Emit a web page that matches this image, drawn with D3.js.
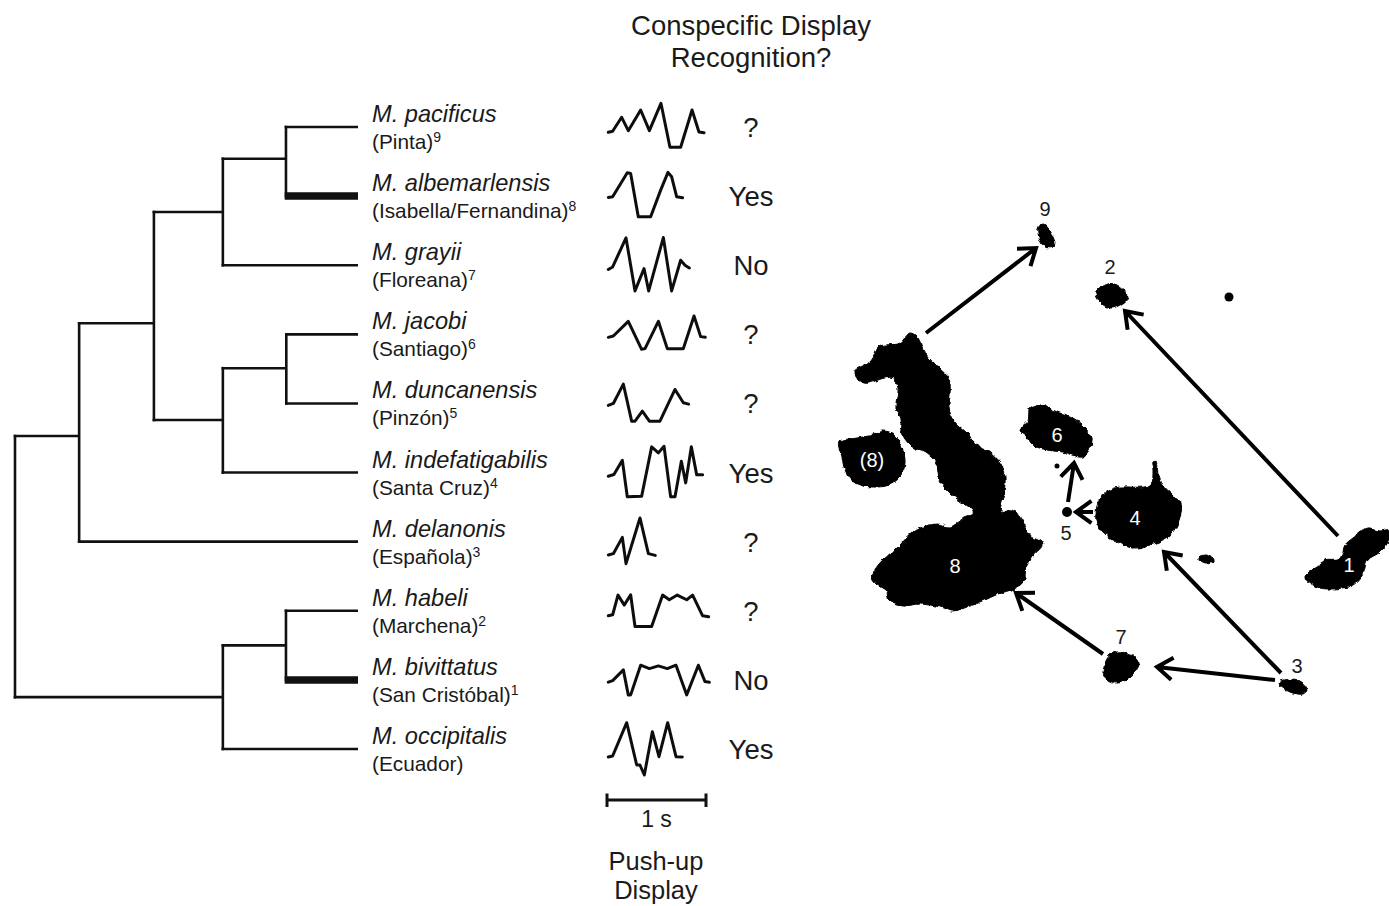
<!DOCTYPE html>
<html>
<head>
<meta charset="utf-8">
<script src="https://cdn.jsdelivr.net/npm/d3@7"></script>
<style>
  html, body { margin: 0; padding: 0; background: #fff; }
  text { font-family: "Liberation Sans", Arial, sans-serif; fill: #1a1a1a; }
</style>
</head>
<body>
<script>
const species = ['M. pacificus', 'M. albemarlensis', 'M. grayii', 'M. jacobi', 'M. duncanensis',
  'M. indefatigabilis', 'M. delanonis', 'M. habeli', 'M. bivittatus', 'M. occipitalis'];
const locations = ['(Pinta)', '(Isabella/Fernandina)', '(Floreana)', '(Santiago)', '(Pinzón)',
  '(Santa Cruz)', '(Española)', '(Marchena)', '(San Cristóbal)', '(Ecuador)'];
const islandNumbers = ['9', '8', '7', '6', '5', '4', '3', '2', '1', ''];
const recognition = ['?', 'Yes', 'No', '?', '?', 'Yes', '?', '?', 'No', 'Yes'];

// tree: age = distance from root (0-100), row = vertical place in rows of species
const treeNodes = [
  { id: 'root', parent: null, age: 0, row: 4.47 },
  { id: 'A', parent: 'root', age: 18.7, row: 4.47 },
  { id: 'B', parent: 'A', age: 40.5, row: 2.84 },
  { id: 'C', parent: 'B', age: 60.6, row: 1.23 },
  { id: 'D', parent: 'C', age: 79, row: 0.46 },
  { id: 'E', parent: 'B', age: 60.6, row: 4.24 },
  { id: 'F', parent: 'E', age: 79.1, row: 3.49 },
  { id: 'G', parent: 'root', age: 60.6, row: 8.25 },
  { id: 'H', parent: 'G', age: 79, row: 7.5 },
  { id: 'M. pacificus', parent: 'D', age: 100, row: 0 },
  { id: 'M. albemarlensis', parent: 'D', age: 100, row: 1, thick: true },
  { id: 'M. grayii', parent: 'C', age: 100, row: 2 },
  { id: 'M. jacobi', parent: 'F', age: 100, row: 3 },
  { id: 'M. duncanensis', parent: 'F', age: 100, row: 4 },
  { id: 'M. indefatigabilis', parent: 'E', age: 100, row: 5 },
  { id: 'M. delanonis', parent: 'A', age: 100, row: 6 },
  { id: 'M. habeli', parent: 'H', age: 100, row: 7 },
  { id: 'M. bivittatus', parent: 'H', age: 100, row: 8, thick: true },
  { id: 'M. occipitalis', parent: 'G', age: 100, row: 9 }
];

// push-up displays: seconds and amplitude around the row centre
const displayTimes = [
  [.013, .057, .148, .215, .34, .428, .545, .636, .744, .859, .929, .98],
  [.013, .057, .205, .239, .316, .441, .542, .616, .653, .704, .764],
  [.013, .057, .192, .283, .374, .421, .569, .653, .744, .788, .832],
  [.013, .064, .215, .35, .384, .519, .609, .771, .879, .946, .993],
  [.013, .064, .165, .249, .283, .357, .428, .535, .687, .771, .825],
  [.013, .07, .155, .205, .35, .451, .519, .576, .643, .687, .751, .795, .852, .906, .966],
  [.013, .064, .155, .192, .333, .418, .488],
  [.013, .057, .111, .175, .239, .283, .451, .562, .629, .71, .805, .865, .966, 1.027],
  [.013, .057, .165, .215, .239, .34, .428, .519, .609, .697, .805, .923, .99, 1.034],
  [.013, .057, .199, .3, .333, .377, .458, .525, .613, .697, .761]
];
const displayAmps = [
  [-5.3, -4.3, 9.7, -3.7, 17, -3.7, 23.7, -20.3, -20.3, 17, -5, -5.7],
  [-1.3, -.7, 23.3, 22.7, -20.7, -20.7, 6, 23.7, 19.3, -.7, -1.7],
  [-4.3, -1.7, 27.3, -25.7, -3.3, -25.7, 27.7, -25.7, 5, 0, -2.7],
  [-3, -1.7, 13, -15, -14.3, 13, -14.3, -14.3, 18.3, -2.3, -3],
  [-2, 0, 19.3, -17.7, -17.7, -7.7, -17.7, -17.7, 14, .7, -.7],
  [-3.7, -2, 12.3, -24.3, -23.7, 25.7, 19.7, 26.3, -24.3, -24.3, 11.3, -10.3, 25.7, -2.3, -2.3],
  [-13.3, -12, 4.3, -22, 23.7, -12, -13.7],
  [-5, -4, 15.7, 5.7, 16, -15.7, -15.7, 15.7, 11, 15.7, 11, 15.7, -5, -6],
  [-2.3, -.7, 10, -15, -15, 14.7, 11.3, 14, 11.3, 14.7, -15, 14.7, -1.7, -2.3],
  [-8, -7, 26.3, -16, -16, -26, 17.3, -7.7, 26.3, -7.7, -8]
];

// island outlines in map units
const islandShapes = [
  [[80,143],[88,148],[93,160],[99,169],[110,179],[119,189],[120,205],[119,218],[124,231],[139,245],[143,252],[160,263],[171,275],[175,288],[174,303],[171,322],[183,320],[193,332],[201,346],[213,354],[203,366],[196,379],[194,391],[183,399],[168,404],[153,411],[140,416],[122,421],[110,417],[90,414],[72,416],[60,411],[56,401],[46,394],[42,387],[49,374],[66,359],[86,340],[107,334],[120,337],[135,327],[142,324],[141,319],[130,311],[120,303],[110,291],[106,273],[96,263],[81,256],[71,241],[71,229],[66,218],[68,198],[63,188],[55,188],[33,193],[24,182],[41,171],[49,157],[70,153]],
  [[9,252],[27,248],[43,245],[53,241],[65,245],[72,257],[75,273],[70,287],[58,295],[43,297],[25,293],[15,280],[12,267]],
  [[200,218],[212,215],[227,222],[243,228],[255,238],[262,248],[259,260],[252,267],[233,262],[217,260],[203,255],[197,247],[190,240],[198,230]],
  [[270,308],[285,298],[320,295],[323,280],[322,272],[327,272],[328,283],[333,295],[343,305],[351,313],[348,333],[337,348],[320,355],[303,358],[287,352],[273,343],[266,330],[267,317]],
  [[475,388],[478,383],[490,375],[495,370],[510,368],[515,355],[523,348],[537,338],[550,341],[559,340],[559,350],[550,362],[538,370],[533,383],[523,395],[500,399],[487,397]],
  [[273,483],[280,465],[292,462],[309,473],[300,487],[288,493],[278,490]],
  [[448,493],[463,489],[473,493],[477,500],[473,504],[460,502]],
  [[208,38],[213,34],[218,38],[225,52],[223,57],[215,57],[210,50]],
  [[266,102],[277,94],[287,95],[298,107],[290,115],[280,118],[270,112]],
  [[369,367],[376,365],[383,368],[384,371],[378,374],[371,372]]
];
const smallIslets = [[237, 322, 5], [227, 276, 2.5], [399, 107, 4.5]];

// dispersal arrows in map units: from x, from y, to x, to y
const arrows = [
  [96, 143, 206, 58], [508, 346, 295, 121], [451, 483, 334, 362], [445, 490, 327, 477],
  [273, 464, 186, 403], [238, 312, 244, 273], [263, 322, 246, 322]
];

const mapLabels = ['9', '2', '7', '3', '5', '(8)', '6', '4', '8', '1'];
const mapLabelX = [215, 280, 291, 467, 236, 42, 227, 305, 125, 519];
const mapLabelY = [25, 83, 453, 482, 349, 276, 251, 334, 382, 381];
const mapLabelColor = ['#1a1a1a', '#1a1a1a', '#1a1a1a', '#1a1a1a', '#1a1a1a', '#fff', '#fff', '#fff', '#fff', '#fff'];

const width = 1389;
const height = 906;

const svg = d3.select('body').append('svg')
  .attr('width', width)
  .attr('height', height)
  .style('display', 'block');

// rough coastline and the soft look of the scan
const defs = svg.append('defs');
const coast = defs.append('filter').attr('id', 'coast')
  .attr('x', '-5%').attr('y', '-5%').attr('width', '110%').attr('height', '110%');
coast.append('feTurbulence').attr('type', 'fractalNoise').attr('baseFrequency', 0.16)
  .attr('numOctaves', 2).attr('seed', 4).attr('result', 'noise');
coast.append('feDisplacementMap').attr('in', 'SourceGraphic').attr('in2', 'noise')
  .attr('scale', 5).attr('xChannelSelector', 'R').attr('yChannelSelector', 'G');
coast.append('feGaussianBlur').attr('stdDeviation', 0.7);
defs.append('filter').attr('id', 'soft')
  .append('feGaussianBlur').attr('stdDeviation', 0.5);

const rowScale = d3.scaleLinear().domain([0, 9]).range([127, 749]);
const ageScale = d3.scaleLinear().domain([0, 100]).range([15, 358]);
const timeScale = d3.scaleLinear().domain([0, 1]).range([607, 706]);
const ampScale = d3.scaleLinear().domain([-30, 30]).range([30, -30]);
const mapX = d3.scaleLinear().domain([0, 559]).range([830, 1389]);
const mapY = d3.scaleLinear().domain([0, 520]).range([190, 710]);

// phylogeny
const root = d3.stratify().id(d => d.id).parentId(d => d.parent)(treeNodes);
const tree = svg.append('g').attr('class', 'tree')
  .attr('fill', 'none').attr('stroke', '#111').attr('stroke-width', 2.6);

root.descendants().forEach(node => {
  if (node.parent) {
    tree.append('line')
      .attr('x1', ageScale(node.parent.data.age) - 1.3)
      .attr('x2', ageScale(node.data.age))
      .attr('y1', rowScale(node.data.row))
      .attr('y2', rowScale(node.data.row))
      .attr('stroke-width', node.data.thick ? 7.5 : 2.6);
  }
  if (node.children) {
    const rows = node.children.map(c => c.data.row);
    tree.append('line')
      .attr('x1', ageScale(node.data.age))
      .attr('x2', ageScale(node.data.age))
      .attr('y1', rowScale(d3.min(rows)) - 1.3)
      .attr('y2', rowScale(d3.max(rows)) + 1.3);
  }
});

// species labels
const labels = svg.append('g').attr('class', 'labels');
species.forEach((name, i) => {
  labels.append('text')
    .attr('x', 372)
    .attr('y', rowScale(i) - 5)
    .style('font-size', '23.6px')
    .style('font-style', 'italic')
    .text(name);
  const place = labels.append('text')
    .attr('x', 372)
    .attr('y', rowScale(i) + 22)
    .style('font-size', '20.8px')
    .text(locations[i]);
  place.append('tspan')
    .attr('dy', -7)
    .style('font-size', '14px')
    .text(islandNumbers[i]);
});

// display traces
const traceLine = d3.line().curve(d3.curveLinear);
const traces = svg.append('g').attr('class', 'traces')
  .attr('fill', 'none').attr('stroke', '#111').attr('stroke-width', 3)
  .attr('stroke-linejoin', 'round').attr('stroke-linecap', 'round')
  .attr('filter', 'url(#soft)');

displayTimes.forEach((times, i) => {
  const pts = times.map((t, j) => [timeScale(t), rowScale(i) + ampScale(displayAmps[i][j])]);
  traces.append('path').attr('d', traceLine(pts));
});

// recognition answers
svg.append('g').selectAll('text')
  .data(recognition)
  .enter()
  .append('text')
  .attr('x', 751)
  .attr('y', (d, i) => rowScale(i) + 10)
  .attr('text-anchor', 'middle')
  .style('font-size', '27.5px')
  .text(d => d);

// headings
svg.append('text').attr('x', 751).attr('y', 35).attr('text-anchor', 'middle')
  .style('font-size', '27.5px').text('Conspecific Display');
svg.append('text').attr('x', 751).attr('y', 67).attr('text-anchor', 'middle')
  .style('font-size', '27.5px').text('Recognition?');
svg.append('text').attr('x', 656).attr('y', 870).attr('text-anchor', 'middle')
  .style('font-size', '25.5px').text('Push-up');
svg.append('text').attr('x', 656).attr('y', 899).attr('text-anchor', 'middle')
  .style('font-size', '25.5px').text('Display');

// 1 s scale bar
const bar = svg.append('g').attr('stroke', '#111').attr('stroke-width', 3);
bar.append('line').attr('x1', timeScale(0)).attr('x2', timeScale(1)).attr('y1', 800).attr('y2', 800);
[0, 1].forEach(t => {
  bar.append('line').attr('x1', timeScale(t)).attr('x2', timeScale(t)).attr('y1', 793.5).attr('y2', 807);
});
svg.append('text').attr('x', timeScale(.5)).attr('y', 827).attr('text-anchor', 'middle')
  .style('font-size', '23px').text('1 s');

// islands
const islandPath = d3.line().x(d => mapX(d[0])).y(d => mapY(d[1])).curve(d3.curveCatmullRomClosed.alpha(0.5));
const map = svg.append('g').attr('class', 'map').attr('filter', 'url(#coast)');
map.selectAll('path')
  .data(islandShapes)
  .enter()
  .append('path')
  .attr('d', islandPath)
  .attr('fill', '#000')
  .attr('stroke', '#000')
  .attr('stroke-width', 1)
  .attr('stroke-linejoin', 'round');

// the tiny islets stay round, the coastline noise would tear them apart
svg.append('g').attr('class', 'islets').attr('filter', 'url(#soft)')
  .selectAll('circle')
  .data(smallIslets)
  .enter()
  .append('circle')
  .attr('cx', d => mapX(d[0]))
  .attr('cy', d => mapY(d[1]))
  .attr('r', d => d[2])
  .attr('fill', '#000');

// arrows with open heads
const arrowGroup = svg.append('g').attr('class', 'arrows')
  .attr('fill', 'none').attr('stroke', '#000').attr('stroke-width', 4)
  .attr('stroke-linejoin', 'miter')
  .attr('filter', 'url(#soft)');

arrows.forEach(a => {
  const x1 = mapX(a[0]), y1 = mapY(a[1]), x2 = mapX(a[2]), y2 = mapY(a[3]);
  const angle = Math.atan2(y2 - y1, x2 - x1);
  const len = 19;
  const spread = 0.62;
  const path = d3.path();
  path.moveTo(x1, y1);
  path.lineTo(x2, y2);
  path.moveTo(x2 - len * Math.cos(angle - spread), y2 - len * Math.sin(angle - spread));
  path.lineTo(x2, y2);
  path.lineTo(x2 - len * Math.cos(angle + spread), y2 - len * Math.sin(angle + spread));
  arrowGroup.append('path').attr('d', path.toString());
});

// island numbers
mapLabels.forEach((label, i) => {
  svg.append('text')
    .attr('x', mapX(mapLabelX[i]))
    .attr('y', mapY(mapLabelY[i]) + 1)
    .attr('text-anchor', 'middle')
    .style('font-size', '20px')
    .style('fill', mapLabelColor[i])
    .text(label);
});
</script>
</body>
</html>
